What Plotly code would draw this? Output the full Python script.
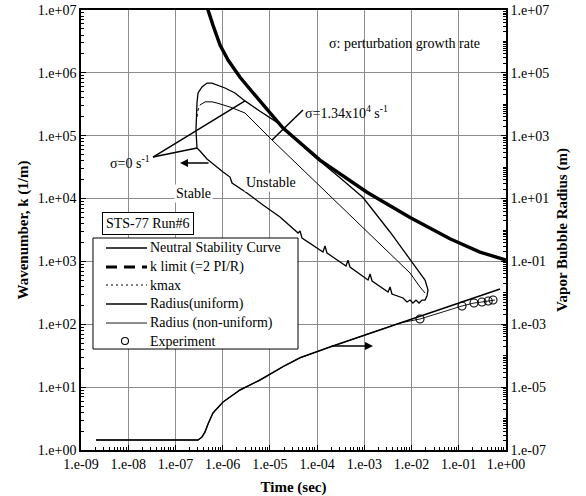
import plotly.graph_objects as go

FONT = "Liberation Serif, Times New Roman, serif"

# ---------------- data ----------------
# k limit (=2 PI/R), thick curve, left axis
klim_t = [4.7e-7, 4.9e-7, 6.2e-7, 8.8e-7, 1.3e-6, 2.33e-6, 6.2e-6, 1.9e-5, 1.15e-4,
          1.14e-3, 9.3e-3, 0.065, 0.28, 1.0]
klim_k = [1.2e7, 1.0e7, 5.8e6, 2.76e6, 1.6e6, 8.5e5, 3.55e5, 1.32e5, 4.1e4,
          1.26e4, 5.0e3, 2.29e3, 1.41e3, 1.05e3]

# Neutral stability curve: upper branch (left side -> peak -> tip)
nsc_up_t = [2.86e-7, 2.72e-7, 2.86e-7, 3.01e-7, 3.65e-7, 4.66e-7, 5.94e-7, 7.59e-7, 1.12e-6,
            1.82e-6, 2.97e-6, 6.18e-6, 1.42e-5, 2.09e-5, 4.35e-5, 9.95e-5, 3.05e-4, 9.38e-4,
            3.50e-3, 9.27e-3, 1.51e-2, 1.93e-2, 2.23e-2, 2.12e-2]
nsc_up_k = [6.37e4, 1.23e5, 3.31e5, 4.78e5, 5.96e5, 6.89e5, 6.89e5, 6.41e5, 5.74e5,
            4.78e5, 3.58e5, 2.45e5, 1.63e5, 1.22e5, 7.4e4, 4.3e4, 2.15e4, 1.04e4,
            2.94e3, 1.05e3, 655, 506, 351, 293]
# Neutral stability curve: lower (jagged) branch (left -> tip)
nsc_lo_t = [2.86e-7, 3.31e-7, 4.66e-7, 6.23e-7, 1.02e-6, 1.43e-6, 1.58e-6, 3.27e-6, 7.14e-6,
            1.64e-5, 3.95e-5, 4.35e-5, 4.79e-5, 1.33e-4, 1.47e-4, 1.62e-4, 4.09e-4, 4.51e-4,
            4.97e-4, 1.20e-3, 1.32e-3, 1.46e-3, 3.18e-3, 3.50e-3, 3.85e-3, 6.59e-3, 7.28e-3,
            8.02e-3, 9.27e-3, 1.07e-2, 1.24e-2, 1.44e-2, 1.67e-2, 1.93e-2, 2.12e-2]
nsc_lo_k = [6.37e4, 5.71e4, 4.26e4, 3.55e4, 2.65e4, 2.20e4, 1.77e4, 1.23e4, 7.90e3,
            5.09e3, 2.83e3, 3.05e3, 2.36e3, 1.41e3, 1.76e3, 1.36e3, 845, 1.05e3,
            815, 506, 631, 488, 326, 392, 303, 262, 243,
            226, 243, 218, 243, 218, 243, 243, 282]

# kmax (dotted start, then solid)
kmax_dot_t = [2.86e-7, 3.01e-7, 3.31e-7]
kmax_dot_k = [1.99e5, 2.56e5, 3.08e5]
kmax_t = [3.31e-7, 4.23e-7, 5.94e-7, 7.59e-7, 1.43e-6, 2.97e-6, 1.11e-5, 4.35e-5, 1.87e-4,
          9.38e-4, 3.50e-3, 9.27e-3, 1.51e-2, 1.93e-2]
kmax_k = [3.08e5, 3.46e5, 3.46e5, 3.31e5, 2.86e5, 2.30e5, 8.55e4, 3.18e4, 1.10e4,
          3.53e3, 1.31e3, 655, 392, 315]

# Radius (uniform), right axis
ru_t = [2.08e-9, 3.01e-7, 3.65e-7, 4.23e-7, 4.90e-7, 6.23e-7, 1.02e-6, 2.33e-6, 6.18e-6,
        1.90e-5, 4.35e-5, 1.87e-4, 1.02e-2, 0.75]
ru_r = [2.08e-7, 2.08e-7, 2.59e-7, 3.74e-7, 6.71e-7, 1.50e-6, 3.37e-6, 8.11e-6, 1.69e-5,
        4.5e-5, 8.6e-5, 1.89e-4, 1.47e-3, 1.32e-2]

# Radius (non-uniform), right axis
rn_t = [2.08e-9, 3.01e-7, 3.65e-7, 4.23e-7, 4.90e-7, 6.23e-7, 1.02e-6, 2.33e-6, 6.18e-6,
        1.90e-5, 4.35e-5, 1.87e-4, 5.70e-3, 1.51e-2, 0.117, 0.21, 0.31, 0.42, 0.585]
rn_r = [2.08e-7, 2.08e-7, 2.59e-7, 3.74e-7, 6.71e-7, 1.50e-6, 3.37e-6, 8.11e-6, 1.69e-5,
        4.5e-5, 8.6e-5, 1.89e-4, 1.10e-3, 1.47e-3, 3.82e-3, 4.75e-3, 5.11e-3, 5.50e-3, 5.93e-3]

# Experiment
exp_t = [1.51e-2, 0.117, 0.21, 0.31, 0.42, 0.531]
exp_r = [1.47e-3, 3.82e-3, 4.75e-3, 5.11e-3, 5.50e-3, 5.93e-3]

# annotation pointer lines
sig0_line1_t = [3.35e-8, 2.97e-6]
sig0_line1_k = [4.58e4, 3.58e5]
sig0_line2_t = [3.35e-8, 2.86e-7]
sig0_line2_k = [4.58e4, 6.37e4]
sig1_line_t = [1.11e-5, 5.02e-5]
sig1_line_k = [8.55e4, 2.56e5]

# legend entries
legend_names = ["Neutral Stability Curve", "k limit (=2 PI/R)", "kmax",
                "Radius(uniform)", "Radius (non-uniform)", "Experiment"]

# ticks
x_tickvals = [1e-9, 1e-8, 1e-7, 1e-6, 1e-5, 1e-4, 1e-3, 1e-2, 1e-1, 1e0]
x_ticktext = ["1.e-09", "1.e-08", "1.e-07", "1.e-06", "1.e-05", "1.e-04", "1.e-03",
              "1.e-02", "1.e-01", "1.e+00"]
y_tickvals = [1e0, 1e1, 1e2, 1e3, 1e4, 1e5, 1e6, 1e7]
y_ticktext = ["1.e+00", "1.e+01", "1.e+02", "1.e+03", "1.e+04", "1.e+05", "1.e+06", "1.e+07"]
y2_tickvals = [1e-7, 1e-5, 1e-3, 1e-1, 1e1, 1e3, 1e5, 1e7]
y2_ticktext = ["1.e-07", "1.e-05", "1.e-03", "1.e-01", "1.e+01", "1.e+03", "1.e+05", "1.e+07"]


def minor_vals(lo, hi, include_decades=False):
    out = []
    for e in range(lo, hi):
        for m in range(2, 10):
            out.append(m * 10.0 ** e)
        if include_decades and e > lo:
            out.append(10.0 ** e)
    return out


fig = go.Figure()
black = "black"


def add_line(x, y, width, dash=None, yaxis="y"):
    fig.add_trace(go.Scatter(x=x, y=y, yaxis=yaxis, mode="lines", showlegend=False,
                             line=dict(color=black, width=width, dash=dash),
                             hoverinfo="skip"))


add_line(klim_t, klim_k, 3.4)
add_line(nsc_up_t + nsc_lo_t[::-1], nsc_up_k + nsc_lo_k[::-1], 1.3)
add_line(kmax_t, kmax_k, 1.0)
add_line(kmax_dot_t, kmax_dot_k, 1.0, dash="dot")
add_line(ru_t, ru_r, 1.5, yaxis="y2")
add_line(rn_t, rn_r, 0.9, yaxis="y2")
fig.add_trace(go.Scatter(x=exp_t, y=exp_r, yaxis="y2", mode="markers", showlegend=False,
                         marker=dict(symbol="circle-open", size=8, color=black,
                                     line=dict(width=1.1, color=black)),
                         hoverinfo="skip"))
for lx, ly in [(sig0_line1_t, sig0_line1_k), (sig0_line2_t, sig0_line2_k),
               (sig1_line_t, sig1_line_k)]:
    add_line(lx, ly, 1.5)

# ---- annotations (log10 coordinates on log axes) ----
ann_font = dict(family=FONT, size=14, color=black)
annotations = [
    dict(x=-2.160, y=6.475, text="σ: perturbation growth rate", showarrow=False,
         xanchor="center", yanchor="middle", font=ann_font),
    dict(x=-4.299, y=5.377, text="σ=1.34x10<sup>4</sup> s<sup>-1</sup>", showarrow=False,
         xanchor="left", yanchor="middle", font=ann_font),
    dict(x=-7.496, y=4.582, text="σ=0 s<sup>-1</sup>", showarrow=False,
         xanchor="right", yanchor="middle", font=ann_font),
    dict(x=-4.976, y=4.263, text="Unstable", showarrow=False, bgcolor="white",
         xanchor="center", yanchor="middle", font=ann_font),
    dict(x=-6.628, y=4.073, text="Stable", showarrow=False, bgcolor="white",
         xanchor="center", yanchor="middle", font=ann_font),
    dict(x=-7.581, y=3.611, text="STS-77 Run#6", showarrow=False, bgcolor="white",
         bordercolor=black, borderwidth=1, borderpad=3,
         xanchor="center", yanchor="middle", font=ann_font),
    dict(x=-6.903, y=4.566, text="", showarrow=True, ax=30, ay=0,
         arrowhead=2, arrowsize=1, arrowwidth=1.6, arrowcolor=black),
    dict(x=-2.816, y=1.654, text="", showarrow=True, ax=-43, ay=0,
         arrowhead=2, arrowsize=1, arrowwidth=1.6, arrowcolor=black),
]

# ---- hand-built legend (paper coordinates) ----
shapes = [dict(type="rect", xref="paper", yref="paper", x0=0.0282, x1=0.5106,
               y0=0.2295, y1=0.4818, fillcolor="white", line=dict(color=black, width=1),
               layer="above")]
leg_y = [0.4591, 0.4159, 0.3750, 0.3318, 0.2886, 0.2477]
leg_styles = [dict(width=1.3), dict(width=3, dash="11px,7px"), dict(width=1, dash="2px,3px"),
              dict(width=1.5), dict(width=0.9), None]
for name, yy, st in zip(legend_names, leg_y, leg_styles):
    if st is not None:
        shapes.append(dict(type="line", xref="paper", yref="paper", x0=0.0588, x1=0.1553,
                           y0=yy, y1=yy, line=dict(color=black, **st), layer="above"))
    else:
        shapes.append(dict(type="circle", xref="paper", yref="paper", xsizemode="pixel",
                           ysizemode="pixel", xanchor=0.1035, yanchor=yy,
                           x0=-3.5, x1=3.5, y0=-3.5, y1=3.5,
                           line=dict(color=black, width=1.1), layer="above"))
    annotations.append(dict(xref="paper", yref="paper", x=0.1576, y=yy, text=name,
                            showarrow=False, xanchor="left", yanchor="middle",
                            font=ann_font))

tickfont = dict(family=FONT, size=14, color=black)
titlefont = dict(family=FONT, size=15, color=black)

fig.update_layout(
    width=586, height=496,
    margin=dict(l=81, r=80, t=10, b=46, autoexpand=False),
    paper_bgcolor="white", plot_bgcolor="white",
    font=dict(family=FONT, size=14, color=black),
    showlegend=False,
    annotations=annotations,
    shapes=shapes,
    xaxis=dict(type="log", range=[-9, 0], tickvals=x_tickvals, ticktext=x_ticktext,
               automargin=False,
               showgrid=True, gridcolor="#8c8c8c", gridwidth=1,
               showline=True, linecolor=black, linewidth=1.5, mirror=True,
               ticks="inside", ticklen=5, tickcolor=black, tickfont=tickfont,
               minor=dict(tickvals=minor_vals(-9, 0), ticks="inside", ticklen=3,
                          tickcolor=black, showgrid=False),
               title=dict(text="<b>Time (sec)</b>", font=titlefont, standoff=13),
               zeroline=False),
    yaxis=dict(type="log", range=[0, 7], tickvals=y_tickvals, ticktext=y_ticktext,
               automargin=False,
               showgrid=True, gridcolor="#8c8c8c", gridwidth=1,
               showline=True, linecolor=black, linewidth=1.5, mirror=True,
               ticks="inside", ticklen=5, tickcolor=black, tickfont=tickfont,
               minor=dict(tickvals=minor_vals(0, 7), ticks="inside", ticklen=3,
                          tickcolor=black, showgrid=False),
               title=dict(text="<b>Wavenumber, k (1/m)</b>", font=titlefont, standoff=6),
               zeroline=False),
    yaxis2=dict(type="log", range=[-7, 7], overlaying="y", side="right",
                automargin=False,
                tickvals=y2_tickvals, ticktext=y2_ticktext, showgrid=False,
                showline=True, linecolor=black, linewidth=1.5,
                ticks="inside", ticklen=5, tickcolor=black, tickfont=tickfont,
                minor=dict(tickvals=minor_vals(-7, 7, include_decades=True), ticks="inside",
                           ticklen=3, tickcolor=black, showgrid=False),
                title=dict(text="<b>Vapor Bubble Radius (m)</b>", font=titlefont, standoff=8),
                zeroline=False),
)

fig.write_html("out.html")
